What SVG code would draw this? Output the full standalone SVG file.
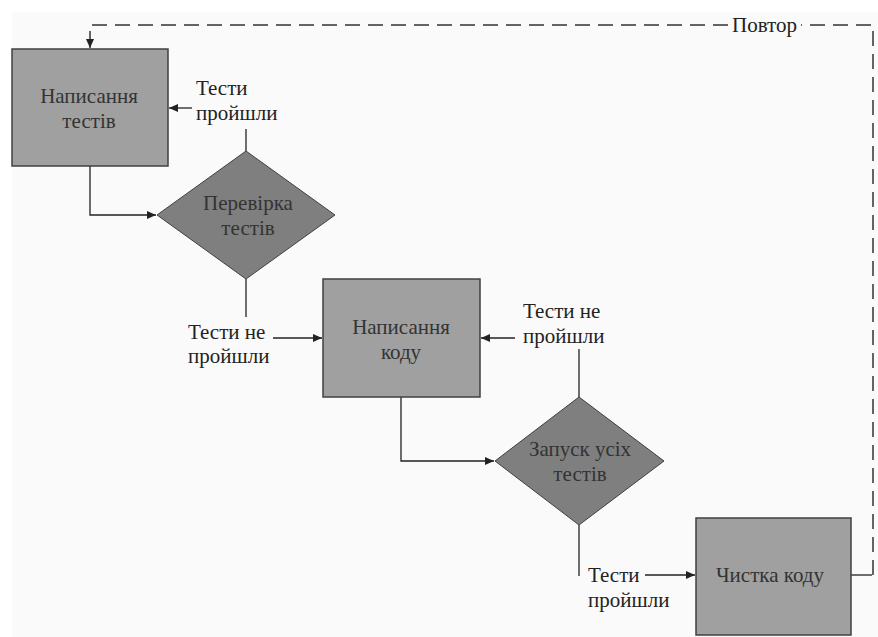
<svg xmlns="http://www.w3.org/2000/svg" width="878" height="637" viewBox="0 0 878 637">
<style>
.box{fill:#a0a0a0;stroke:#404040;stroke-width:1.5}
.dia{fill:#7f7f7f;stroke:#404040;stroke-width:1}
.t{font-family:"Liberation Serif","DejaVu Serif",serif;font-size:21px;fill:#333;text-anchor:middle}
.tl{font-family:"Liberation Serif","DejaVu Serif",serif;font-size:21px;fill:#222}
.c{fill:none;stroke:#222;stroke-width:1.3}
.d{fill:none;stroke:#333;stroke-width:1.5;stroke-dasharray:15 8}
</style>
<defs>
<marker id="a" markerWidth="10" markerHeight="10" refX="9" refY="5" orient="auto" markerUnits="userSpaceOnUse">
<path d="M0,1 L9,5 L0,9 Z" fill="#222"/>
</marker>
</defs>
<rect x="0" y="0" width="878" height="637" fill="#fff"/>
<rect x="12" y="12" width="866" height="625" fill="#fafafa"/>
<g id="connectors">
<path class="c" d="M90,166 V215 H156" marker-end="url(#a)"/>
<path class="c" d="M246,151 V129"/>
<path class="c" d="M192,108 H169" marker-end="url(#a)"/>
<path class="c" d="M246,279 V317"/>
<path class="c" d="M273,338 H322" marker-end="url(#a)"/>
<path class="c" d="M401,397 V461 H494" marker-end="url(#a)"/>
<path class="c" d="M579,397 V349"/>
<path class="c" d="M515,338 H481" marker-end="url(#a)"/>
<path class="c" d="M579,525 V576"/>
<path class="c" d="M645,575 H695" marker-end="url(#a)"/>
<path class="c" d="M851,575 H872"/>
<path class="d" d="M873,575 V25 H801"/>
<path class="d" d="M728,25 H90 V40"/>
<path class="c" d="M90,40 V48" marker-end="url(#a)"/>
<text class="tl" x="732" y="32">Повтор</text>
<text class="tl" x="196" y="95">Тести</text>
<text class="tl" x="196" y="120">пройшли</text>
<text class="tl" x="188" y="339">Тести не</text>
<text class="tl" x="188" y="363">пройшли</text>
<text class="tl" x="523" y="318">Тести не</text>
<text class="tl" x="523" y="343">пройшли</text>
<text class="tl" x="588" y="582">Тести</text>
<text class="tl" x="588" y="607">пройшли</text>
</g>
<g id="n1">
<rect class="box" x="12" y="49" width="156" height="117"/>
<text class="t" x="89" y="103">Написання</text>
<text class="t" x="89" y="128">тестів</text>
</g>
<g id="n2">
<polygon class="dia" points="246,151 335,215 246,279 157,215"/>
<text class="t" x="248" y="210">Перевірка</text>
<text class="t" x="248" y="235">тестів</text>
</g>
<g id="n3">
<rect class="box" x="323" y="279" width="157" height="118"/>
<text class="t" x="401" y="334">Написання</text>
<text class="t" x="401" y="359">коду</text>
</g>
<g id="n4">
<polygon class="dia" points="579,397 664,461 579,525 495,461"/>
<text class="t" x="580" y="456">Запуск усіх</text>
<text class="t" x="580" y="481">тестів</text>
</g>
<g id="n5">
<rect class="box" x="696" y="518" width="155" height="117"/>
<text class="t" x="770" y="582">Чистка коду</text>
</g>
</svg>
